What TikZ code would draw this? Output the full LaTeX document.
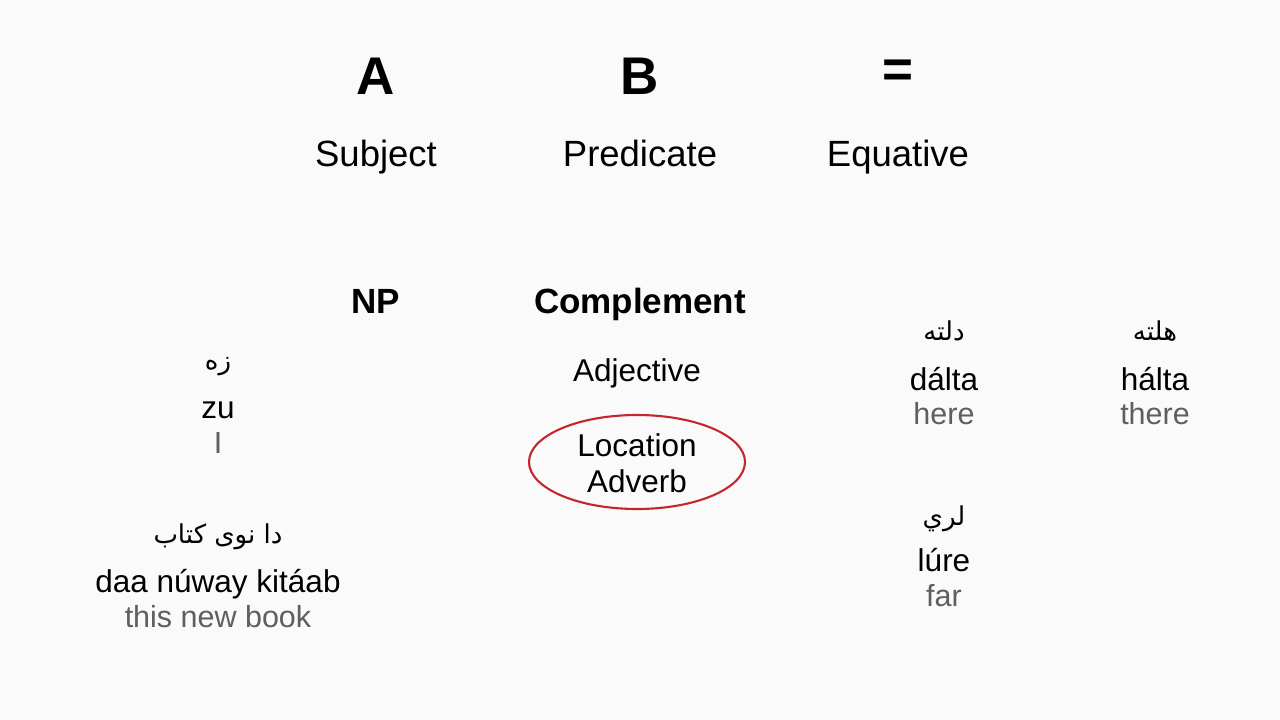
\documentclass[tikz,border=0pt]{standalone}
\usepackage{fontspec}
\setmainfont{Liberation Sans}
\newfontfamily\arabicfont[Script=Arabic]{DejaVu Sans}
\TeXXeTstate=1
\definecolor{bgc}{HTML}{FAFAFA}
\definecolor{grayt}{HTML}{5F5F5F}
\definecolor{redc}{HTML}{C4262E}
\begin{document}
\begin{tikzpicture}[x=1pt,y=-1pt,
  every node/.style={inner sep=0pt,outer sep=0pt},
  big/.style={anchor=base,font=\fontsize{53}{60}\selectfont\bfseries},
  head/.style={anchor=base,font=\fontsize{36.5}{40}\selectfont},
  bhead/.style={anchor=base,font=\fontsize{35}{40}\selectfont\bfseries},
  word/.style={anchor=base,font=\fontsize{31.5}{36}\selectfont},
  gloss/.style={anchor=base,font=\fontsize{30.5}{36}\selectfont,text=grayt},
  ar/.style={anchor=base,font=\fontsize{26}{30}\selectfont\arabicfont}]
\fill[bgc] (0,0) rectangle (1280,720);
\useasboundingbox (0,0) rectangle (1280,720);
% top row
\node[big] (A) at (376,94) {A};
\node[big] (B) at (640,94) {B};
\node[big,anchor=center] (eq) at (898,73.5) {=};
\node[head] (subj) at (376,166) {Subject};
\node[head] (pred) at (640,166) {Predicate};
\node[head] (equa) at (898,166) {Equative};
% second row
\node[bhead] (np) at (376,313) {NP};
\node[bhead] (comp) at (640,313) {Complement};
\node[word] (adj) at (637,381) {Adjective};
\node[word] (loc) at (637,456) {Location};
\node[word] (adv) at (637,492) {Adverb};
\draw[redc,line width=2.1pt] (637,462) ellipse [x radius=108, y radius=47];
% left examples
\node[ar] (zuar) at (218,369) {\beginR زه\endR};
\node[word] (zu) at (218,418) {zu};
\node[gloss] (I) at (218,453) {I};
\node[ar] (bookar) at (218,543) {\beginR دا نوی کتاب\endR};
\node[word] (book) at (218,592) {daa núway kitáab};
\node[gloss] (bookg) at (218,627) {this new book};
% right examples
\node[ar] (daltaar) at (944,340) {\beginR دلته\endR};
\node[word] (dalta) at (944,390) {dálta};
\node[gloss] (here) at (944,424) {here};
\node[ar] (haltaar) at (1155,340) {\beginR هلته\endR};
\node[word] (halta) at (1155,390) {hálta};
\node[gloss] (there) at (1155,424) {there};
\node[ar] (lurear) at (944,525) {\beginR لري\endR};
\node[word] (lure) at (944,571) {lúre};
\node[gloss] (far) at (944,606) {far};
\end{tikzpicture}
\end{document}
